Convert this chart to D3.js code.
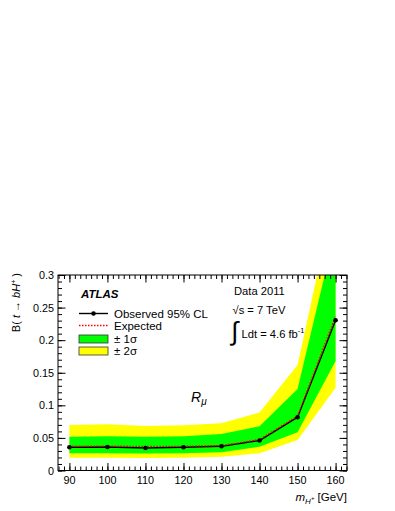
<!DOCTYPE html>
<html lang="en">
<head>
<meta charset="UTF-8">
<script src="https://d3js.org/d3.v7.min.js"></script>
<style>
body { margin: 0; background: white; }
text { font-family: "Liberation Sans", Arial, Helvetica, sans-serif; fill: black; }
</style>
</head>
<body>
<div id="chart"></div>
<script>
// charged Higgs mass points (GeV)
var masses = [90, 100, 110, 120, 130, 140, 150, 160];
// observed and expected 95% CL upper limits on B(t -> bH+)
var observed = [0.0356, 0.0361, 0.0345, 0.0356, 0.0371, 0.0460, 0.0818, 0.2306];
var expected = [0.0372, 0.0374, 0.0369, 0.0371, 0.0382, 0.0475, 0.0835, 0.2370];
// +-1 sigma and +-2 sigma bands
var sig1Low  = [0.0264, 0.0266, 0.0262, 0.0264, 0.0280, 0.0366, 0.0586, 0.168];
var sig1High = [0.0519, 0.0524, 0.0517, 0.0525, 0.0560, 0.0680, 0.125, 0.370];
var sig2Low  = [0.0194, 0.0196, 0.0192, 0.0196, 0.0212, 0.0264, 0.0468, 0.127];
var sig2High = [0.0698, 0.0709, 0.0683, 0.0695, 0.0724, 0.0890, 0.162, 0.430];

var yTicks = [0, 0.05, 0.1, 0.15, 0.2, 0.25, 0.3];
var xTicks = [90, 100, 110, 120, 130, 140, 150, 160];

var W = 395, H = 511;
var frame = {left: 58, right: 347, top: 275, bottom: 470.5};

var svg = d3.select("#chart").append("svg")
    .attr("width", W)
    .attr("height", H);

var x = d3.scaleLinear().domain([87, 163]).range([frame.left, frame.right]);
var y = d3.scaleLinear().domain([0, 0.3]).range([frame.bottom, frame.top]);

svg.append("clipPath").attr("id", "clip")
  .append("rect")
    .attr("x", frame.left).attr("y", frame.top)
    .attr("width", frame.right - frame.left)
    .attr("height", frame.bottom - frame.top);

var plot = svg.append("g").attr("clip-path", "url(#clip)");

function band(lo, hi) {
  return d3.area()
    .x(function(d, i) { return x(masses[i]); })
    .y0(function(d, i) { return y(lo[i]); })
    .y1(function(d, i) { return y(hi[i]); })(masses);
}

plot.append("path").attr("d", band(sig2Low, sig2High)).attr("fill", "#ffff00");
plot.append("path").attr("d", band(sig1Low, sig1High)).attr("fill", "#00ff00");

var line = d3.line()
    .x(function(d, i) { return x(masses[i]); })
    .y(function(d) { return y(d); });

plot.append("path").attr("d", line(observed))
    .attr("fill", "none").attr("stroke", "black").attr("stroke-width", 1.4);
plot.append("path").attr("d", line(expected))
    .attr("fill", "none").attr("stroke", "#ff0000").attr("stroke-width", 1.4)
    .attr("stroke-dasharray", "1.5,1.5");
plot.selectAll("circle.obs").data(observed).enter().append("circle")
    .attr("class", "obs")
    .attr("cx", function(d, i) { return x(masses[i]); })
    .attr("cy", function(d) { return y(d); })
    .attr("r", 2.3)
    .attr("fill", "black");

// axes: ROOT style, ticks inside on all four sides
var xMinor = [];
for (var v = 80; v <= 170; v += 10 / 7) {
  if (v >= 87 && v <= 163) xMinor.push(v);
}
var yMinor = d3.range(0, 0.3001, 0.01);

function tickAxis(axisFn, scale, values, size) {
  return axisFn(scale).tickValues(values).tickSize(size).tickFormat("");
}

var axes = svg.append("g");
axes.append("g").attr("transform", "translate(0," + frame.bottom + ")")
    .call(tickAxis(d3.axisTop, x, xMinor, 4));
axes.append("g").attr("transform", "translate(0," + frame.bottom + ")")
    .call(tickAxis(d3.axisTop, x, xTicks, 7.5));
axes.append("g").attr("transform", "translate(0," + frame.top + ")")
    .call(tickAxis(d3.axisBottom, x, xMinor, 4));
axes.append("g").attr("transform", "translate(0," + frame.top + ")")
    .call(tickAxis(d3.axisBottom, x, xTicks, 7.5));
axes.append("g").attr("transform", "translate(" + frame.left + ",0)")
    .call(tickAxis(d3.axisRight, y, yMinor, 4));
axes.append("g").attr("transform", "translate(" + frame.left + ",0)")
    .call(tickAxis(d3.axisRight, y, yTicks, 7.5));
axes.append("g").attr("transform", "translate(" + frame.right + ",0)")
    .call(tickAxis(d3.axisLeft, y, yMinor, 4));
axes.append("g").attr("transform", "translate(" + frame.right + ",0)")
    .call(tickAxis(d3.axisLeft, y, yTicks, 7.5));
axes.selectAll(".domain").remove();
axes.selectAll("line").attr("stroke", "black").attr("stroke-width", 1);

svg.append("rect")
    .attr("x", frame.left).attr("y", frame.top)
    .attr("width", frame.right - frame.left)
    .attr("height", frame.bottom - frame.top)
    .attr("fill", "none").attr("stroke", "black").attr("stroke-width", 1);

// tick labels
svg.selectAll("text.ylab").data(yTicks).enter().append("text")
    .attr("class", "ylab")
    .attr("x", frame.left - 4)
    .attr("y", function(d) { return y(d) + 4; })
    .attr("text-anchor", "end")
    .attr("font-size", 10.8)
    .text(function(d) { return d; });

svg.selectAll("text.xlab").data(xTicks).enter().append("text")
    .attr("class", "xlab")
    .attr("x", function(d) { return x(d); })
    .attr("y", frame.bottom + 13.5)
    .attr("text-anchor", "middle")
    .attr("font-size", 10.8)
    .text(function(d) { return d; });

// axis titles
var xt = svg.append("text")
    .attr("x", frame.right).attr("y", 501)
    .attr("text-anchor", "end")
    .attr("font-size", 11.5);
xt.append("tspan").attr("font-style", "italic").text("m");
xt.append("tspan").attr("font-style", "italic").attr("font-size", 8).attr("dy", 2.5).text("H");
xt.append("tspan").attr("font-size", 6).attr("dy", -4).text("+");
xt.append("tspan").attr("dy", 1.5).text(" [GeV]");

var yt = svg.append("text")
    .attr("transform", "translate(20,273) rotate(-90)")
    .attr("text-anchor", "end")
    .attr("font-size", 11);
yt.append("tspan").text("B( ");
yt.append("tspan").attr("font-style", "italic").text("t");
yt.append("tspan").text(" \u2192 ");
yt.append("tspan").attr("font-style", "italic").text("bH");
yt.append("tspan").attr("font-size", 7).attr("dy", -4).text("+");
yt.append("tspan").attr("dy", 4).text(" )");

// ATLAS label and legend
svg.append("text")
    .attr("x", 81).attr("y", 297.5)
    .attr("font-size", 11.5)
    .attr("font-weight", "bold")
    .attr("font-style", "italic")
    .text("ATLAS");

var legendItems = ["Observed 95% CL", "Expected", "\u00b1 1\u03c3", "\u00b1 2\u03c3"];
var legendY = [313.5, 325.5, 339, 351];
var lg = svg.append("g");
lg.append("line").attr("x1", 79).attr("x2", 108)
    .attr("y1", legendY[0]).attr("y2", legendY[0])
    .attr("stroke", "black").attr("stroke-width", 1.4);
lg.append("circle").attr("cx", 93.5).attr("cy", legendY[0]).attr("r", 2.3);
lg.append("line").attr("x1", 79).attr("x2", 108)
    .attr("y1", legendY[1]).attr("y2", legendY[1])
    .attr("stroke", "#ff0000").attr("stroke-width", 1.4)
    .attr("stroke-dasharray", "1.5,1.5");
lg.append("rect").attr("x", 79).attr("y", legendY[2] - 4)
    .attr("width", 29).attr("height", 8)
    .attr("fill", "#00ff00").attr("stroke", "#333").attr("stroke-width", 0.8);
lg.append("rect").attr("x", 79).attr("y", legendY[3] - 4)
    .attr("width", 29).attr("height", 8)
    .attr("fill", "#ffff00").attr("stroke", "#333").attr("stroke-width", 0.8);
lg.selectAll("text").data(legendItems).enter().append("text")
    .attr("x", 114)
    .attr("y", function(d, i) { return legendY[i] + 4; })
    .attr("font-size", 11.5)
    .text(function(d) { return d; });

// data info
svg.append("text").attr("x", 234).attr("y", 294.5).attr("font-size", 11.2).text("Data 2011");
svg.append("text").attr("x", 232.5).attr("y", 314).attr("font-size", 11.2).text("\u221as = 7 TeV");
svg.append("text").attr("x", 231).attr("y", 340)
    .attr("font-size", 26)
    .attr("font-family", "'DejaVu Serif', serif")
    .text("\u222b");
var lum = svg.append("text").attr("x", 241.5).attr("y", 337.5).attr("font-size", 11.2);
lum.append("tspan").text("Ldt = 4.6 fb");
lum.append("tspan").attr("font-size", 7.5).attr("dy", -5).text("-1");

var r = svg.append("text").attr("x", 191).attr("y", 402)
    .attr("font-size", 14).attr("font-style", "italic");
r.append("tspan").text("R");
r.append("tspan").attr("font-size", 10).attr("dy", 3).text("\u03bc");
</script>
</body>
</html>
